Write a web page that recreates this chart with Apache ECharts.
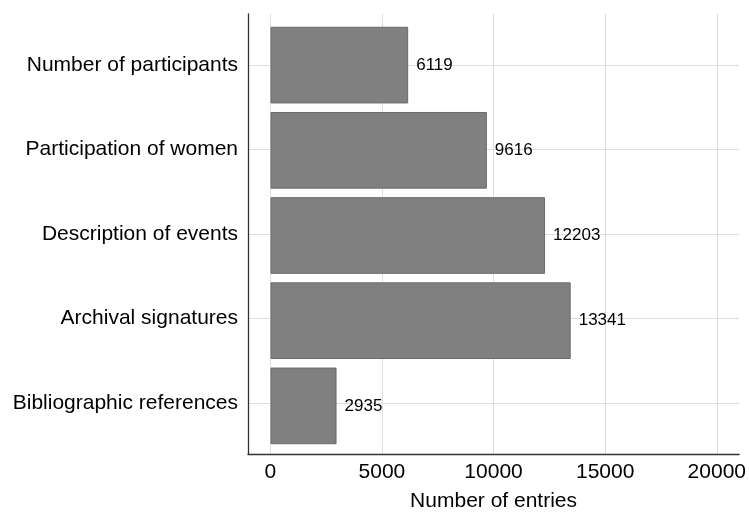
<!DOCTYPE html>
<html>
<head>
<meta charset="utf-8">
<script src="https://cdn.jsdelivr.net/npm/echarts@6/dist/echarts.min.js"></script>
<style>
html,body{margin:0;padding:0;background:#fff;}
#chart{width:749px;height:517px;}
</style>
</head>
<body>
<div id="chart"></div>
<script>
const categories = ['Number of participants', 'Participation of women', 'Description of events', 'Archival signatures', 'Bibliographic references'];
const values = [6119, 9616, 12203, 13341, 2935];
const xTicks = [0, 5000, 10000, 15000, 20000];
const catPositions = [0, 1, 2, 3, 4];

const FONT = '"Liberation Sans", Arial, Helvetica, sans-serif';
const chart = echarts.init(document.getElementById('chart'), null, {renderer: 'canvas'});

const frameTop = 14, frameBottom = 60, left = 248, right = 6;
const unit = (517 - frameTop - frameBottom) / 5.2;

chart.setOption({
  animation: false,
  backgroundColor: '#fff',
  grid: [
    {left: left, right: right, top: frameTop, bottom: frameBottom, containLabel: false},
    {left: left, right: right, top: frameTop + 0.1 * unit, bottom: frameBottom + 0.1 * unit, containLabel: false}
  ],
  xAxis: [
    {
      type: 'value', gridIndex: 0, min: -1000, max: 21000,
      axisLine: {show: true, onZero: false, lineStyle: {color: '#333', width: 1.3}},
      axisTick: {show: false, customValues: xTicks},
      axisLabel: {customValues: xTicks, fontSize: 21, color: '#000', fontFamily: FONT, margin: 8,
        formatter: v => String(v)},
      splitLine: {show: true, lineStyle: {color: '#dedede', width: 1}},
      name: 'Number of entries', nameLocation: 'middle', nameGap: 37,
      nameTextStyle: {fontSize: 21, color: '#000', fontFamily: FONT}
    },
    {type: 'value', gridIndex: 1, min: -1000, max: 21000, show: false}
  ],
  yAxis: [
    {
      type: 'value', gridIndex: 0, min: -0.6, max: 4.6, inverse: true,
      axisLine: {show: true, onZero: false, lineStyle: {color: '#333', width: 1.3}},
      axisTick: {show: false, customValues: catPositions},
      axisLabel: {customValues: catPositions, fontSize: 21, color: '#000', fontFamily: FONT, margin: 10,
        formatter: v => categories[Math.round(v)]},
      splitLine: {show: true, lineStyle: {color: '#dedede', width: 1}}
    },
    {type: 'category', gridIndex: 1, data: categories, inverse: true, show: false}
  ],
  series: [{
    type: 'bar', xAxisIndex: 1, yAxisIndex: 1,
    data: values,
    barCategoryGap: '10%',
    itemStyle: {color: '#808080', borderColor: '#6a6a6a', borderWidth: 1},
    label: {show: true, position: 'right', distance: 8, fontSize: 17, color: '#000', fontFamily: FONT}
  }]
});
</script>
</body>
</html>
